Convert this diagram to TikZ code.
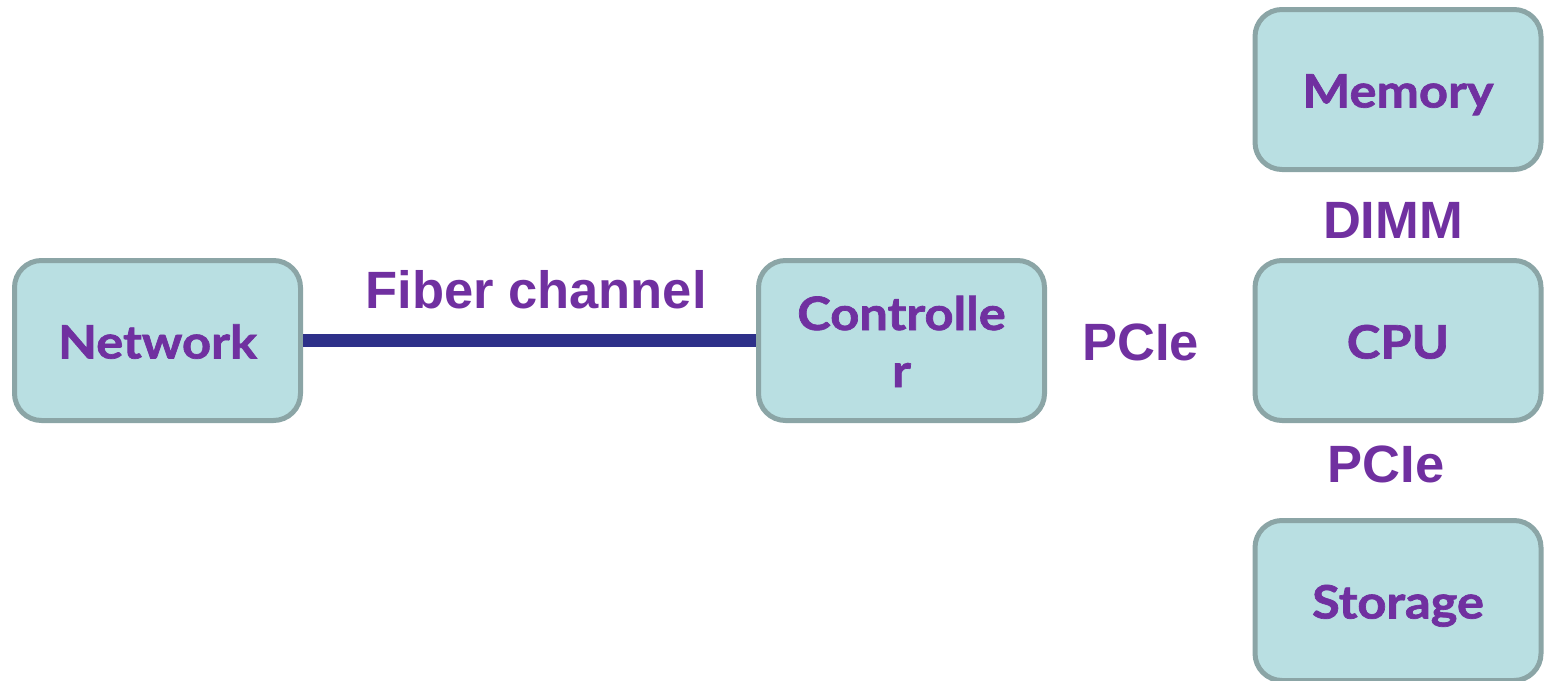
\documentclass[tikz,border=0pt]{standalone}
\usepackage{fontspec}
\newfontfamily\boxfont[BoldFeatures={FakeBold=1.5,FakeStretch=1.1}]{Lato}
\newfontfamily\labfont{Liberation Sans}
\definecolor{boxfill}{HTML}{B9DFE2}
\definecolor{boxline}{HTML}{8BA5A6}
\definecolor{txtpurple}{HTML}{7030A0}
\definecolor{fiberblue}{HTML}{2E3089}
\tikzset{
  unitbox/.style={draw=boxline, fill=boxfill, line width=5pt, rounded corners=27pt,
    minimum width=286pt, minimum height=160pt, inner sep=0pt,
    text=txtpurple, font=\boxfont\bfseries\fontsize{46}{57}\selectfont,
    text height=36pt, text depth=0pt, align=center},
  linklabel/.style={text=txtpurple, font=\labfont\bfseries\fontsize{52.5}{60}\selectfont,
    anchor=base, inner sep=0pt},
  fiber/.style={draw=fiberblue, line width=13pt}
}
\begin{document}
\begin{tikzpicture}[x=1pt,y=-1pt]
\useasboundingbox (0,0) rectangle (1544,680);
\node[unitbox] (net) at (157.5,340.5) {Network};
\node[unitbox, text height=93pt, text depth=0pt] (ctrl) at (901.5,340.5) {Controlle\\r};
\node[unitbox] (mem) at (1398,89.5) {Memory};
\node[unitbox] (cpu) at (1398,340.5) {CPU};
\node[unitbox] (sto) at (1398,600.5) {Storage};
\draw[fiber] (net.east) -- (ctrl.west);
\node[linklabel] (fc) at (536,308) {Fiber channel};
\node[linklabel] (pcie1) at (1140.5,360) {PCIe};
\node[linklabel] (dimm) at (1393,238) {DIMM};
\node[linklabel] (pcie2) at (1386,482) {PCIe};
\end{tikzpicture}
\end{document}
